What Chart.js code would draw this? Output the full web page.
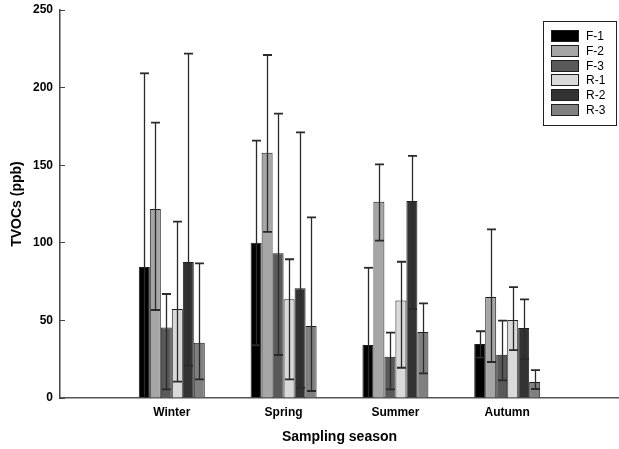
<!DOCTYPE html>
<html><head><meta charset="utf-8">
<script src="https://cdn.jsdelivr.net/npm/chart.js@4"></script>
<style>html,body{margin:0;padding:0;background:#fff}</style>
</head><body>
<canvas id="c" width="619" height="449"></canvas>
<script>
// ---- data ----
const seasons = ['Winter', 'Spring', 'Summer', 'Autumn'];
const seriesNames = ['F-1', 'F-2', 'F-3', 'R-1', 'R-2', 'R-3'];
const yTicks = [0, 50, 100, 150, 200, 250];

const meanF1 = [84.4, 100.1, 34.1, 34.8];
const meanF2 = [121.8, 158.1, 126.5, 65.1];
const meanF3 = [45.5, 93.2, 26.6, 27.9];
const meanR1 = [57.3, 63.6, 62.9, 50.3];
const meanR2 = [87.6, 70.7, 126.9, 45.1];
const meanR3 = [35.6, 46.4, 42.5, 10.3];

const upperF1 = [209.2, 165.8, 83.9, 43.0];
const upperF2 = [177.4, 221.0, 150.5, 108.7];
const upperF3 = [67.0, 183.2, 42.1, 49.8];
const upperR1 = [113.6, 89.4, 87.8, 71.5];
const upperR2 = [221.9, 171.2, 156.0, 63.6];
const upperR3 = [86.8, 116.4, 61.0, 18.0];

const lowerF1 = [-40.0, 34.0, -15.0, 26.0];
const lowerF2 = [56.7, 107.0, 101.4, 23.2];
const lowerF3 = [5.6, 27.7, 5.6, 11.4];
const lowerR1 = [10.5, 12.0, 19.5, 30.9];
const lowerR2 = [20.8, 6.6, 57.3, 25.1];
const lowerR3 = [12.0, 4.5, 15.9, 5.8];

// ---- styles ----
const fills = ['#000000', '#a6a6a6', '#595959', '#d9d9d9', '#333333', '#808080'];
const FONT = "'Liberation Sans', Arial, sans-serif";

const means = [meanF1, meanF2, meanF3, meanR1, meanR2, meanR3];
const uppers = [upperF1, upperF2, upperF3, upperR1, upperR2, upperR3];
const lowers = [lowerF1, lowerF2, lowerF3, lowerR1, lowerR2, lowerR3];

const labels = [''].concat(seasons, ['']);
const pad = arr => [null].concat(arr, [null]);

const datasets = seriesNames.map((name, i) => ({
  label: name,
  data: pad(means[i]),
  upper: pad(uppers[i]),
  lower: pad(lowers[i]),
  backgroundColor: fills[i],
  borderColor: '#1e1e1e',
  borderWidth: 1,
  categoryPercentage: 0.59,
  barPercentage: 1.0
}));

const errorBars = {
  id: 'errorBars',
  afterDatasetsDraw(chart) {
    const ctx = chart.ctx;
    const y = chart.scales.y;
    const y0 = y.getPixelForValue(0);
    ctx.save();
    ctx.strokeStyle = '#2a2a2a';
    chart.data.datasets.forEach((ds, di) => {
      const meta = chart.getDatasetMeta(di);
      meta.data.forEach((bar, i) => {
        if (ds.data[i] == null) return;
        const x = Math.round(bar.x) + 0.5;
        const hi = ds.upper[i], lo = ds.lower[i];
        const yh = y.getPixelForValue(hi);
        const yl = lo > 0 ? y.getPixelForValue(lo) : y0;
        ctx.lineWidth = 1.3;
        ctx.beginPath();
        ctx.moveTo(x, yh); ctx.lineTo(x, yl);
        ctx.stroke();
        ctx.lineWidth = 1.8;
        ctx.beginPath();
        ctx.moveTo(x - 4.5, yh); ctx.lineTo(x + 4.5, yh);
        if (lo > 0) { ctx.moveTo(x - 4.5, yl); ctx.lineTo(x + 4.5, yl); }
        ctx.stroke();
      });
    });
    ctx.restore();
  }
};

const boxLegend = {
  id: 'boxLegend',
  afterDraw(chart) {
    const ctx = chart.ctx;
    ctx.save();
    ctx.strokeStyle = '#222';
    ctx.lineWidth = 1;
    ctx.strokeRect(543.5, 21.5, 73, 104);
    ctx.font = '12px ' + FONT;
    ctx.textBaseline = 'middle';
    ctx.textAlign = 'left';
    chart.data.datasets.forEach((ds, i) => {
      const top = Math.round(30 + 14.8 * i);
      ctx.fillStyle = ds.backgroundColor;
      ctx.fillRect(551, top, 28, 12);
      ctx.strokeStyle = '#1e1e1e';
      ctx.strokeRect(551.5, top + 0.5, 27, 11);
      ctx.fillStyle = '#000';
      ctx.fillText(ds.label, 586, top + 6.5);
    });
    ctx.restore();
  }
};

new Chart(document.getElementById('c'), {
  type: 'bar',
  data: { labels, datasets },
  options: {
    responsive: false,
    animation: false,
    layout: { padding: 0 },
    plugins: { legend: { display: false }, tooltip: { enabled: false } },
    scales: {
      x: {
        offset: false,
        grid: { display: false, drawTicks: false },
        border: { display: true, color: '#555', width: 1.5 },
        ticks: { color: '#000', padding: 7, font: { family: FONT, size: 12, weight: 'bold' }, maxRotation: 0, autoSkip: false },
        title: { display: true, text: 'Sampling season', color: '#000', font: { family: FONT, size: 14, weight: 'bold' }, padding: { top: 10, bottom: 3 } },
        afterFit(scale) { scale.height = 51; scale.paddingLeft = 0; scale.paddingRight = 0; }
      },
      y: {
        min: 0, max: 250,
        afterBuildTicks(scale) { scale.ticks = yTicks.map(v => ({ value: v })); },
        grid: { display: true, drawOnChartArea: false, drawTicks: true, tickLength: -5, color: '#444', lineWidth: 1 },
        border: { display: true, color: '#444', width: 1.5 },
        ticks: { color: '#000', padding: 12, font: { family: FONT, size: 12, weight: 'bold' } },
        title: { display: true, text: 'TVOCs (ppb)', color: '#000', font: { family: FONT, size: 14, weight: 'bold' }, padding: { top: 9, bottom: 7 } },
        afterFit(scale) { scale.width = 60; scale.paddingTop = 10; scale.paddingBottom = 0; }
      }
    }
  },
  plugins: [errorBars, boxLegend]
});
</script>
</body></html>
